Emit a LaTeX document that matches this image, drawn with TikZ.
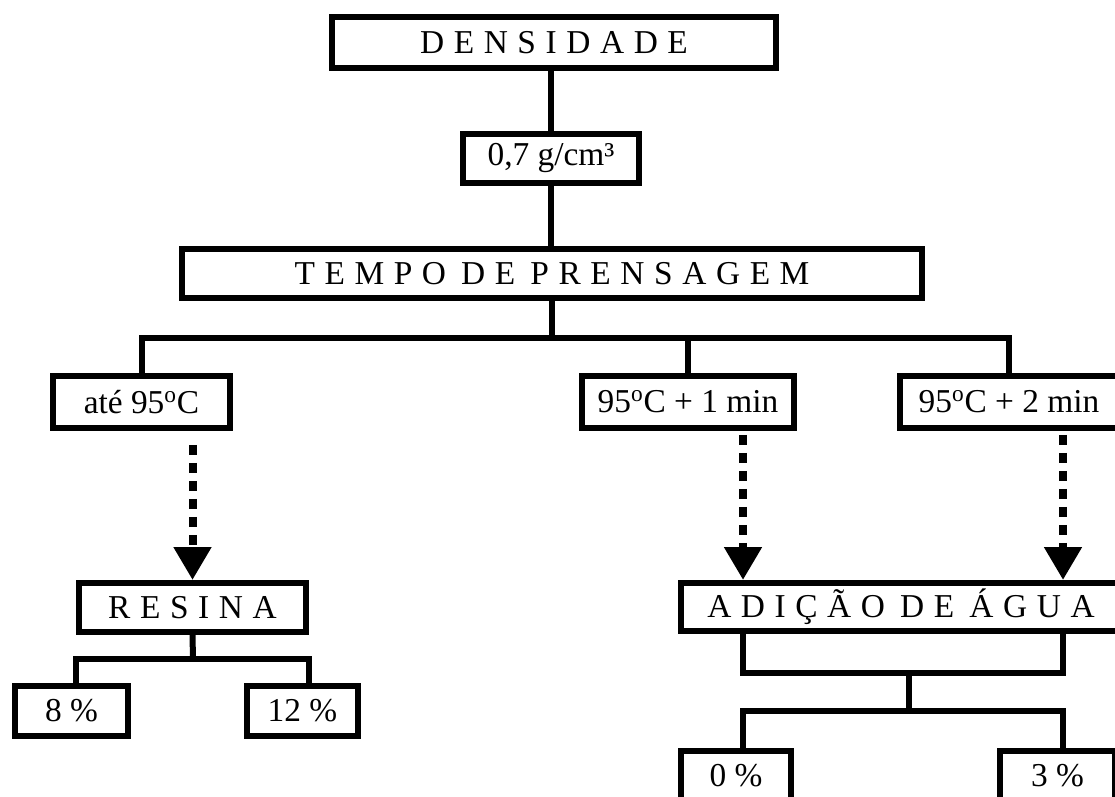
\documentclass[tikz,border=0pt]{standalone}
\usepackage{fontspec}
\setmainfont{Liberation Serif}
\newfontfamily\wideface{Liberation Serif}[WordSpace=1.15]
\usetikzlibrary{arrows.meta,calc}

\tikzset{
  box/.style={draw, line width=0.12cm, inner sep=0pt, font=\fontsize{19}{22}\selectfont},
  conn/.style={line width=0.12cm},
  dasharrow/.style={line width=0.16cm, dash pattern=on 0.2cm off 0.16cm,
    -{Triangle[width=0.72cm,length=0.66cm]}}
}

\begin{document}
\begin{tikzpicture}[x=0.02cm,y=-0.02cm]
\useasboundingbox (0,0) rectangle (1115,797);
\clip (0,0) rectangle (1115,797);

% caixas
\node[box, minimum width=8.9cm, minimum height=1.02cm] (dens) at (554,42.5) {\wideface D E N S I D A D E};
\node[box, minimum width=3.54cm, minimum height=0.98cm] (v07) at (551,158.5) {0,7 g/cm³};
\node[box, minimum width=14.8cm, minimum height=0.98cm] (tempo) at (552,273.5) {\wideface T E M P O\, D E\, P R E N S A G E M};

\node[box, minimum width=3.54cm, minimum height=1.04cm] (ate) at (141.5,402) {até 95\textsuperscript{o}C};
\node[box, minimum width=4.26cm, minimum height=1.04cm] (min1) at (688,402) {95\textsuperscript{o}C + 1 min};
\node[box, minimum width=4.36cm, minimum height=1.04cm] (min2) at (1009,402) {95\textsuperscript{o}C + 2 min};

\node[box, minimum width=4.54cm, minimum height=0.98cm] (res) at (192.5,607.5) {\wideface R E S I N A};
\node[box, minimum width=8.8cm, minimum height=0.96cm] (agua) at (901,607) {\wideface A D I Ç Ã O\, D E\, Á G U A};

\node[box, minimum width=2.26cm, minimum height=1.0cm] (p8) at (71.5,711) {8 \%};
\node[box, minimum width=2.22cm, minimum height=1.0cm] (p12) at (302.5,711) {12 \%};
\node[box, minimum width=2.2cm, minimum height=1.0cm] (p0) at (736,776) {0 \%};
\node[box, minimum width=2.3cm, minimum height=1.0cm] (p3) at (1057.5,776) {3 \%};

\coordinate (busA) at (552,338);
\coordinate (busB) at (909,673);
\coordinate (busC) at (909,711);
\coordinate (busD) at (193,659);
\coordinate (aguaL) at (743,580);
\coordinate (aguaR) at (1063,580);

% ligacoes
\draw[conn] (dens.south -| v07.north) -- (v07.north);
\draw[conn] (v07.south) -- (v07.south |- tempo.north);
\draw[conn] (tempo.south) -- (busA);
\draw[conn] (ate.north) |- (min2.north |- busA) -- (min2.north);
\draw[conn] (min1.north) -- (min1.north |- busA);

\draw[dasharrow] ($(ate.south -| res.north)+(0,14)$) -- (res.north);
\draw[dasharrow] ($(min1.south -| aguaL)+(0,4)$) -- (aguaL);
\draw[dasharrow] ($(min2.south -| aguaR)+(0,4)$) -- (aguaR);

\draw[conn] (res.south) -- (busD);
\draw[conn] (p8.north -| res.west) |- (busD -| res.east) -- (p12.north -| res.east);

\draw[conn] (agua.south -| aguaL) |- (busB -| aguaR) -- (agua.south -| aguaR);
\draw[conn] (busB) -- (busC);
\draw[conn] (p0.north -| aguaL) |- (busC -| aguaR) -- (p3.north -| aguaR);
\end{tikzpicture}
\end{document}
